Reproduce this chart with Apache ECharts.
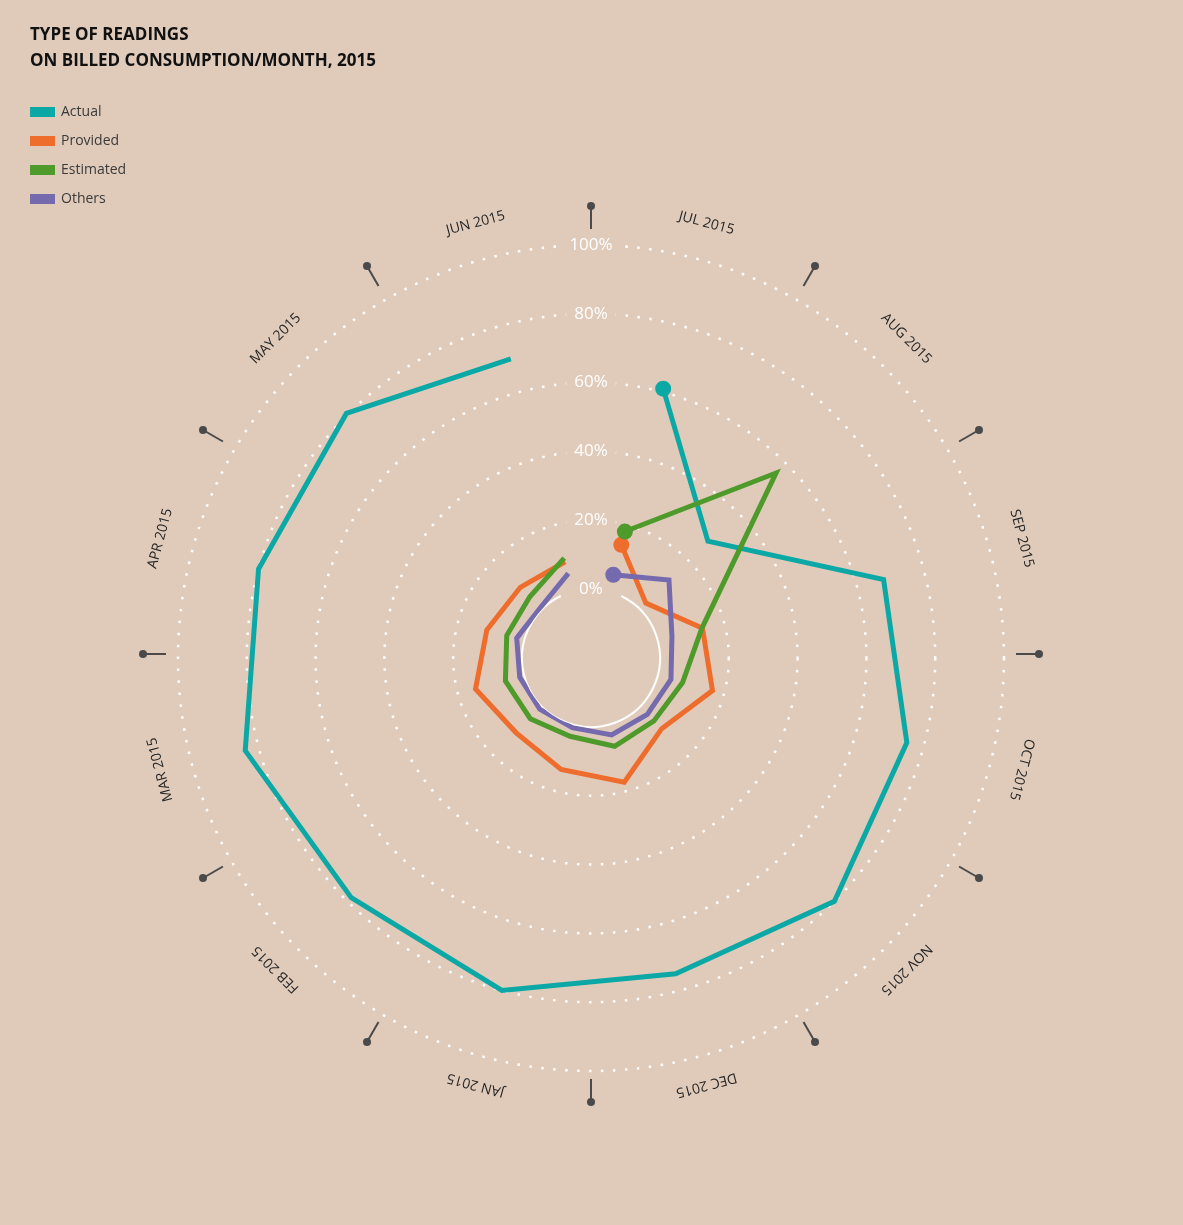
<!DOCTYPE html>
<html>
<head>
<meta charset="utf-8">
<title>Type of readings on billed consumption/month, 2015</title>
<style>
  html, body { margin: 0; padding: 0; background: #e0cbbb; }
  #chart { width: 1183px; height: 1225px; }
</style>
<script src="https://cdn.jsdelivr.net/npm/echarts@6/dist/echarts.min.js"></script>
</head>
<body>
<div id="chart"></div>
<script>
// months clockwise, starting at 12 o'clock
var months = ['JUL 2015', 'AUG 2015', 'SEP 2015', 'OCT 2015', 'NOV 2015', 'DEC 2015',
              'JAN 2015', 'FEB 2015', 'MAR 2015', 'APR 2015', 'MAY 2015', 'JUN 2015'];

// share of billed consumption, %
var actual    = [61, 28, 68, 75, 80, 75, 80, 78.5, 84, 80, 80.5, 70];
var provided  = [14, 2.5, 13.5, 16.5, 9, 17.3, 13.5, 10.7, 14.7, 11.3, 9, 8.9];
var estimated = [18, 56, 13.3, 7.5, 5.8, 6.5, 3.5, 4.9, 5.7, 5.3, 5.1, 10];
var others    = [5, 12, 4.3, 4, 3.1, 3.1, 0.9, 1.0, 1.4, 2.3, 0.7, 5.4];

var BG = '#e0cbbb';
var FONT = '"Open Sans", "DejaVu Sans", sans-serif';

function lineSeries(name, values, color) {
    return {
        name: name,
        type: 'line',
        coordinateSystem: 'polar',
        polarIndex: 0,
        data: values.map(function (v, i) { return [v, i]; }),
        symbol: 'circle',
        symbolSize: function (v, p) { return p.dataIndex === 0 ? 16 : 0; },
        showSymbol: true,
        showAllSymbol: true,
        itemStyle: { color: color },
        lineStyle: { color: color, width: 5, join: 'miter', miterLimit: 20, cap: 'butt' },
        emphasis: { disabled: true },
        silent: true,
        z: 3
    };
}

// solid ring at 0%, open at the top where the label sits
function renderZeroRing(params, api) {
    var cs = params.coordSys;
    var p = api.coord([0, 0]);
    var r = Math.sqrt(Math.pow(p[0] - cs.cx, 2) + Math.pow(p[1] - cs.cy, 2));
    var gap = 26 * Math.PI / 180;
    return {
        type: 'arc',
        shape: { cx: cs.cx, cy: cs.cy, r: r, startAngle: -Math.PI / 2 + gap, endAngle: 1.5 * Math.PI - gap, clockwise: true },
        style: { stroke: '#ffffff', lineWidth: 2, fill: null }
    };
}

// month name along the rim plus the pin between two months
function renderMonth(params, api) {
    var cs = params.coordSys;
    var p = api.coord([api.value(0), api.value(1)]);
    var a = Math.atan2(p[0] - cs.cx, cs.cy - p[1]);
    var tA = a - Math.PI / months.length;
    function at(r, ang) { return [cs.cx + r * Math.sin(ang), cs.cy - r * Math.cos(ang)]; }
    var lp = at(cs.r + 33, a);
    var t0 = at(cs.r + 12, tA), t1 = at(cs.r + 33, tA), dot = at(cs.r + 35, tA);
    return {
        type: 'group',
        children: [
            {
                type: 'text', x: lp[0], y: lp[1], rotation: -a,
                style: {
                    text: months[params.dataIndex], fill: '#262626',
                    fontSize: 14, fontWeight: 500, fontFamily: FONT,
                    align: 'center', verticalAlign: 'middle',
                    textAlign: 'center', textVerticalAlign: 'middle'
                }
            },
            { type: 'line', shape: { x1: t0[0], y1: t0[1], x2: t1[0], y2: t1[1] }, style: { stroke: '#4a4a4a', lineWidth: 2 } },
            { type: 'circle', shape: { cx: dot[0], cy: dot[1], r: 4 }, style: { fill: '#4a4a4a' } }
        ]
    };
}

var chart = echarts.init(document.getElementById('chart'));

var hiddenAngle = {
    type: 'category', data: months, startAngle: 90, clockwise: true,
    axisLine: { show: false }, axisTick: { show: false }, axisLabel: { show: false }, splitLine: { show: false }
};

var option = {
    backgroundColor: BG,
    animation: false,
    title: {
        text: 'TYPE OF READINGS\nON BILLED CONSUMPTION/MONTH, 2015',
        left: 30, top: 22, padding: 0,
        textStyle: { fontFamily: FONT, fontSize: 17, fontWeight: 'bold', color: '#111111', lineHeight: 26 }
    },
    legend: {
        orient: 'vertical', left: 30, top: 105, padding: 0,
        icon: 'rect', itemWidth: 25, itemHeight: 10, itemGap: 15,
        selectedMode: false,
        data: ['Actual', 'Provided', 'Estimated', 'Others'],
        textStyle: { fontFamily: FONT, fontSize: 14, color: '#3a3a3a', lineHeight: 14, padding: [0, 0, 0, 1] }
    },
    polar: [
        { center: [591, 658], radius: [69, 413] },
        { center: [591, 654], radius: [69, 413] }
    ],
    angleAxis: [
        Object.assign({ polarIndex: 0 }, hiddenAngle),
        Object.assign({ polarIndex: 1 }, hiddenAngle)
    ],
    radiusAxis: [
        {
            polarIndex: 0, type: 'value', min: 0, max: 100, interval: 20,
            axisLine: { show: false }, axisTick: { show: false },
            axisLabel: {
                formatter: '{value}%', color: '#ffffff', fontSize: 17, fontWeight: 'normal', fontFamily: FONT,
                margin: 0, align: 'center', verticalAlign: 'middle',
                backgroundColor: BG, padding: [0, 8]
            },
            splitLine: {
                show: true,
                lineStyle: { color: ['rgba(0,0,0,0)', '#ffffff', '#ffffff', '#ffffff', '#ffffff', '#ffffff'], width: 2.5, type: [2.5, 9.5] }
            }
        },
        {
            polarIndex: 1, type: 'value', min: 0, max: 100, show: false,
            axisLine: { show: false }, axisTick: { show: false }, axisLabel: { show: false }, splitLine: { show: false }
        }
    ],
    series: [
        {
            type: 'custom', coordinateSystem: 'polar', polarIndex: 0,
            data: [[0, 0]], renderItem: renderZeroRing, silent: true, z: 1
        },
        {
            type: 'custom', coordinateSystem: 'polar', polarIndex: 1,
            data: months.map(function (m, i) { return [100, i]; }),
            renderItem: renderMonth, silent: true, z: 1
        },
        lineSeries('Actual', actual, '#0ca8a6'),
        lineSeries('Provided', provided, '#ee6c2c'),
        lineSeries('Estimated', estimated, '#4e9a2b'),
        lineSeries('Others', others, '#746aad')
    ]
};

chart.setOption(option);
</script>
</body>
</html>
